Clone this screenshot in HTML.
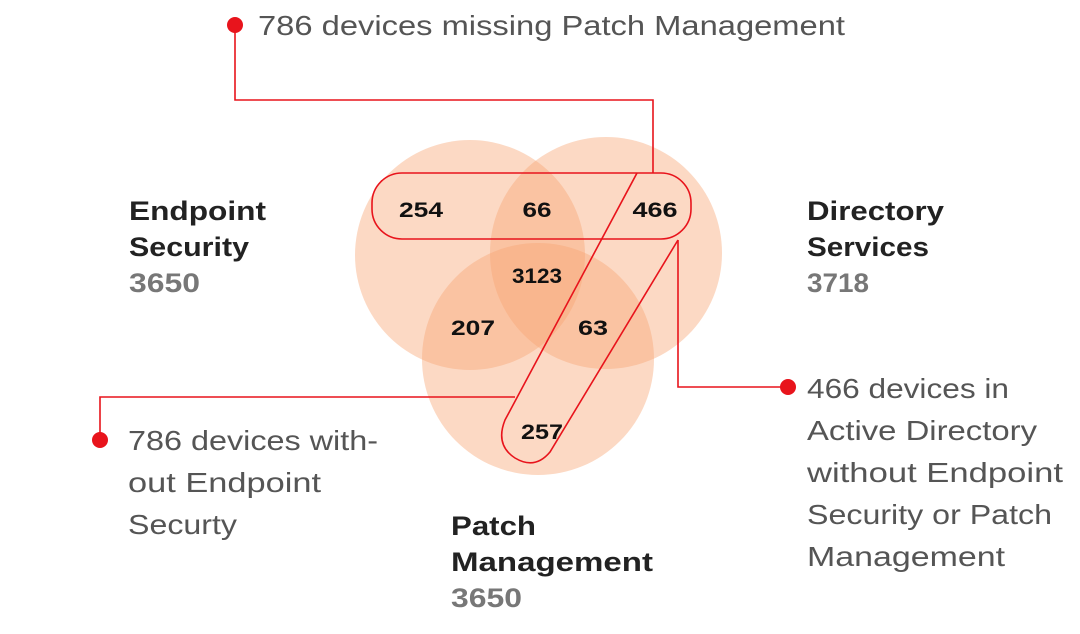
<!DOCTYPE html>
<html><head><meta charset="utf-8"><style>
html,body{margin:0;padding:0;background:#fff;width:1080px;height:634px;overflow:hidden}
svg{display:block}
.h{font-family:"Liberation Sans",sans-serif;font-size:27px;font-weight:bold;fill:#222}
.n{font-family:"Liberation Sans",sans-serif;font-size:27px;font-weight:bold;fill:#777}
.c{font-family:"Liberation Sans",sans-serif;font-size:28px;fill:#555}
.v{font-family:"Liberation Sans",sans-serif;font-size:21px;font-weight:bold;fill:#111;text-anchor:middle}
</style></head><body>
<svg width="1080" height="634" viewBox="0 0 1080 634">
<g fill="#f9a572" fill-opacity="0.42">
<circle cx="470" cy="255" r="115"/>
<circle cx="606" cy="253" r="116"/>
<circle cx="538" cy="359" r="116"/>
</g>
<g fill="none" stroke="#e8141c" stroke-width="1.6">
<rect x="372" y="173" width="319" height="66" rx="30"/>
<path d="M637 173 L505 420 Q495 445 515 458 Q535 470 550 452 L678 240"/>
<path d="M235 25 V100 H653 V173"/>
<path d="M100 440 V397 H515"/>
<path d="M678 240 V387 H788"/>
</g>
<g fill="#e8141c">
<circle cx="235" cy="25" r="8"/>
<circle cx="100" cy="440" r="8"/>
<circle cx="788" cy="387" r="8"/>
</g>
<g lengthAdjust="spacingAndGlyphs">
<text class="v" x="421" y="217" textLength="44" lengthAdjust="spacingAndGlyphs">254</text>
<text class="v" x="537" y="217" textLength="29" lengthAdjust="spacingAndGlyphs">66</text>
<text class="v" x="655" y="217" textLength="45" lengthAdjust="spacingAndGlyphs">466</text>
<text class="v" x="537" y="283" textLength="50" lengthAdjust="spacingAndGlyphs">3123</text>
<text class="v" x="473" y="335" textLength="44" lengthAdjust="spacingAndGlyphs">207</text>
<text class="v" x="593" y="335" textLength="30" lengthAdjust="spacingAndGlyphs">63</text>
<text class="v" x="542" y="439" textLength="42" lengthAdjust="spacingAndGlyphs">257</text>
</g>
<text class="h" x="129" y="220" textLength="137" lengthAdjust="spacingAndGlyphs">Endpoint</text>
<text class="h" x="129" y="256" textLength="120" lengthAdjust="spacingAndGlyphs">Security</text>
<text class="n" x="129" y="292" textLength="71" lengthAdjust="spacingAndGlyphs">3650</text>
<text class="h" x="807" y="220" textLength="137" lengthAdjust="spacingAndGlyphs">Directory</text>
<text class="h" x="807" y="256" textLength="122" lengthAdjust="spacingAndGlyphs">Services</text>
<text class="n" x="807" y="292" textLength="62" lengthAdjust="spacingAndGlyphs">3718</text>
<text class="h" x="451" y="535" textLength="85" lengthAdjust="spacingAndGlyphs">Patch</text>
<text class="h" x="451" y="571" textLength="202" lengthAdjust="spacingAndGlyphs">Management</text>
<text class="n" x="451" y="607" textLength="71" lengthAdjust="spacingAndGlyphs">3650</text>
<text class="c" x="258" y="35" textLength="587" lengthAdjust="spacingAndGlyphs">786 devices missing Patch Management</text>
<text class="c" x="128" y="450" textLength="250" lengthAdjust="spacingAndGlyphs">786 devices with-</text>
<text class="c" x="128" y="492" textLength="193" lengthAdjust="spacingAndGlyphs">out Endpoint</text>
<text class="c" x="128" y="534" textLength="109" lengthAdjust="spacingAndGlyphs">Securty</text>
<text class="c" x="807" y="398" textLength="202" lengthAdjust="spacingAndGlyphs">466 devices in</text>
<text class="c" x="807" y="440" textLength="230" lengthAdjust="spacingAndGlyphs">Active Directory</text>
<text class="c" x="807" y="482" textLength="256" lengthAdjust="spacingAndGlyphs">without Endpoint</text>
<text class="c" x="807" y="524" textLength="245" lengthAdjust="spacingAndGlyphs">Security or Patch</text>
<text class="c" x="807" y="566" textLength="198" lengthAdjust="spacingAndGlyphs">Management</text>
</svg>
</body></html>
